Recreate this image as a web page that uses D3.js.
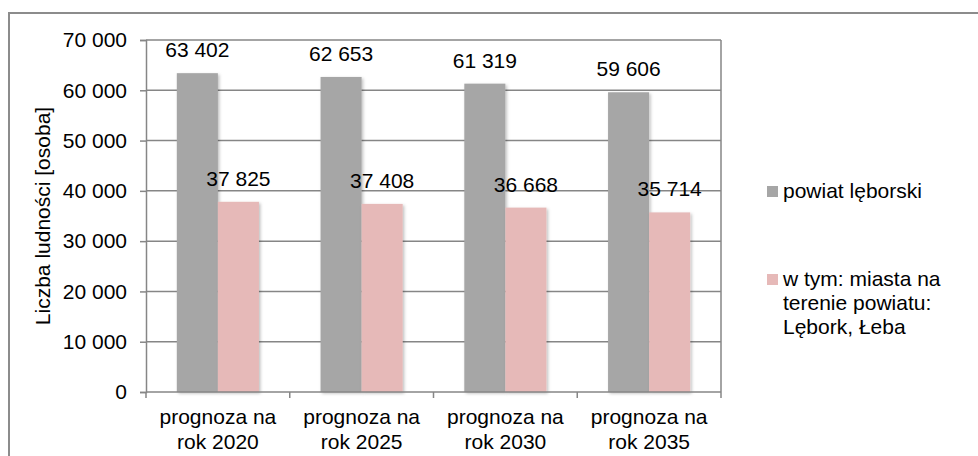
<!DOCTYPE html>
<html>
<head>
<meta charset="utf-8">
<script src="https://cdn.jsdelivr.net/npm/d3@7"></script>
<style>
  body { margin: 0; background: #fff; }
  svg { display: block; font-family: "Liberation Sans", Arial, sans-serif; }
</style>
</head>
<body>
<div id="chart"></div>
<script>
// data
var categories = ['prognoza na rok 2020', 'prognoza na rok 2025', 'prognoza na rok 2030', 'prognoza na rok 2035'];
var categoryLines = [['prognoza na', 'rok 2020'], ['prognoza na', 'rok 2025'], ['prognoza na', 'rok 2030'], ['prognoza na', 'rok 2035']];
var seriesNames = ['powiat lęborski', 'w tym: miasta na terenie powiatu: Lębork, Łeba'];
var legendLines = [['powiat lęborski'], ['w tym: miasta na', 'terenie powiatu:', 'Lębork, Łeba']];
var powiat = [63402, 62653, 61319, 59606];
var miasta = [37825, 37408, 36668, 35714];
var yTicks = [0, 10000, 20000, 30000, 40000, 50000, 60000, 70000];
var colors = ['#a6a6a6', '#e6b9b8'];

var W = 978, H = 456;
var margin = { top: 40, right: 257, bottom: 64, left: 146 },
    width = W - margin.left - margin.right,
    height = H - margin.top - margin.bottom;

var fmt = d3.formatLocale({ decimal: ',', thousands: '\u00a0', grouping: [3], currency: ['', ''] }).format(',d');

var svg = d3.select('#chart')
  .append('svg')
    .attr('width', W)
    .attr('height', H);

// soft shadow on bars
var filter = svg.append('defs').append('filter')
    .attr('id', 'shadow')
    .attr('x', '-20%').attr('y', '-20%')
    .attr('width', '140%').attr('height', '140%');
filter.append('feDropShadow')
    .attr('dx', 1.5).attr('dy', 1.5)
    .attr('stdDeviation', 1.5)
    .attr('flood-color', '#000')
    .attr('flood-opacity', 0.25);

// outer frame (right and bottom run off the picture)
svg.append('rect')
    .attr('x', 9).attr('y', 13)
    .attr('width', W + 20).attr('height', H + 20)
    .attr('fill', 'none')
    .attr('stroke', '#8c8c8c')
    .attr('stroke-width', 2);

var g = svg.append('g')
    .attr('transform', 'translate(' + margin.left + ',' + margin.top + ')');

var x0 = d3.scaleBand()
    .domain(categories)
    .range([0, width]);

var x1 = d3.scaleBand()
    .domain([0, 1])
    .range([0, x0.bandwidth()])
    .paddingOuter(0.75);

var y = d3.scaleLinear()
    .domain([0, 70000])
    .range([height, 0]);

// gridlines
g.append('g')
  .selectAll('line')
  .data(yTicks.slice(1))
  .enter()
  .append('line')
    .attr('x1', 0).attr('x2', width)
    .attr('y1', d => y(d)).attr('y2', d => y(d))
    .attr('stroke', '#868686')
    .attr('stroke-width', 1.5);

// right border of plot area
g.append('line')
    .attr('x1', width).attr('x2', width)
    .attr('y1', 0).attr('y2', height)
    .attr('stroke', '#868686')
    .attr('stroke-width', 1.5);

// Y axis
var yAxis = g.append('g')
    .call(d3.axisLeft(y).tickValues(yTicks).tickSize(6).tickPadding(13).tickFormat(fmt));
yAxis.select('.domain').attr('stroke', '#868686').attr('stroke-width', 1.5);
yAxis.selectAll('.tick line').attr('stroke', '#868686').attr('stroke-width', 1.5);
yAxis.selectAll('.tick text')
    .attr('font-size', '21px')
    .attr('font-family', '"Liberation Sans", Arial, sans-serif')
    .attr('fill', '#000');

// bars
var data = [powiat, miasta];
var groups = g.append('g')
  .selectAll('g')
  .data(categories)
  .enter()
  .append('g')
    .attr('transform', d => 'translate(' + x0(d) + ',0)');

groups.selectAll('rect')
  .data((d, i) => data.map((s, k) => ({ k: k, v: s[i] })))
  .enter()
  .append('rect')
    .attr('x', d => x1(d.k))
    .attr('y', d => y(d.v))
    .attr('width', x1.bandwidth())
    .attr('height', d => height - y(d.v))
    .attr('fill', d => colors[d.k])
    .attr('filter', 'url(#shadow)');

groups.selectAll('text.val')
  .data((d, i) => data.map((s, k) => ({ k: k, v: s[i] })))
  .enter()
  .append('text')
    .attr('class', 'val')
    .attr('x', d => x1(d.k) + x1.bandwidth() / 2)
    .attr('y', d => y(d.v) - 16)
    .attr('text-anchor', 'middle')
    .attr('font-size', '21px')
    .attr('fill', '#000')
    .text(d => fmt(d.v));

// X axis
g.append('line')
    .attr('x1', 0).attr('x2', width)
    .attr('y1', height).attr('y2', height)
    .attr('stroke', '#868686')
    .attr('stroke-width', 1.5);
g.append('g')
  .selectAll('line')
  .data(d3.range(categories.length + 1))
  .enter()
  .append('line')
    .attr('x1', d => d * x0.step()).attr('x2', d => d * x0.step())
    .attr('y1', height).attr('y2', height + 6)
    .attr('stroke', '#868686')
    .attr('stroke-width', 1.5);

var xl = g.append('g')
  .selectAll('text')
  .data(categories)
  .enter()
  .append('text')
    .attr('text-anchor', 'middle')
    .attr('font-size', '21px')
    .attr('fill', '#000')
    .attr('transform', d => 'translate(' + (x0(d) + x0.bandwidth() / 2) + ',' + (height + 32) + ')');
xl.selectAll('tspan')
  .data((d, i) => categoryLines[i])
  .enter()
  .append('tspan')
    .attr('x', 0)
    .attr('dy', (d, i) => i ? 25 : 0)
    .text(d => d);

// Y axis title
svg.append('text')
    .attr('transform', 'translate(50,' + (margin.top + height / 2) + ') rotate(-90)')
    .attr('text-anchor', 'middle')
    .attr('font-size', '21px')
    .attr('fill', '#000')
    .text('Liczba ludności [osoba]');

// legend
var legendY = [198, 286];
var legend = svg.append('g')
  .selectAll('g')
  .data(seriesNames)
  .enter()
  .append('g')
    .attr('transform', (d, i) => 'translate(767,' + legendY[i] + ')');
legend.append('rect')
    .attr('x', 0).attr('y', -12)
    .attr('width', 11).attr('height', 11)
    .attr('fill', (d, i) => colors[i]);
var lt = legend.append('text')
    .attr('x', 16)
    .attr('font-size', '21px')
    .attr('fill', '#000');
lt.selectAll('tspan')
  .data((d, i) => legendLines[i])
  .enter()
  .append('tspan')
    .attr('x', 16)
    .attr('dy', (d, i) => i ? 24 : 0)
    .text(d => d);
</script>
</body>
</html>
